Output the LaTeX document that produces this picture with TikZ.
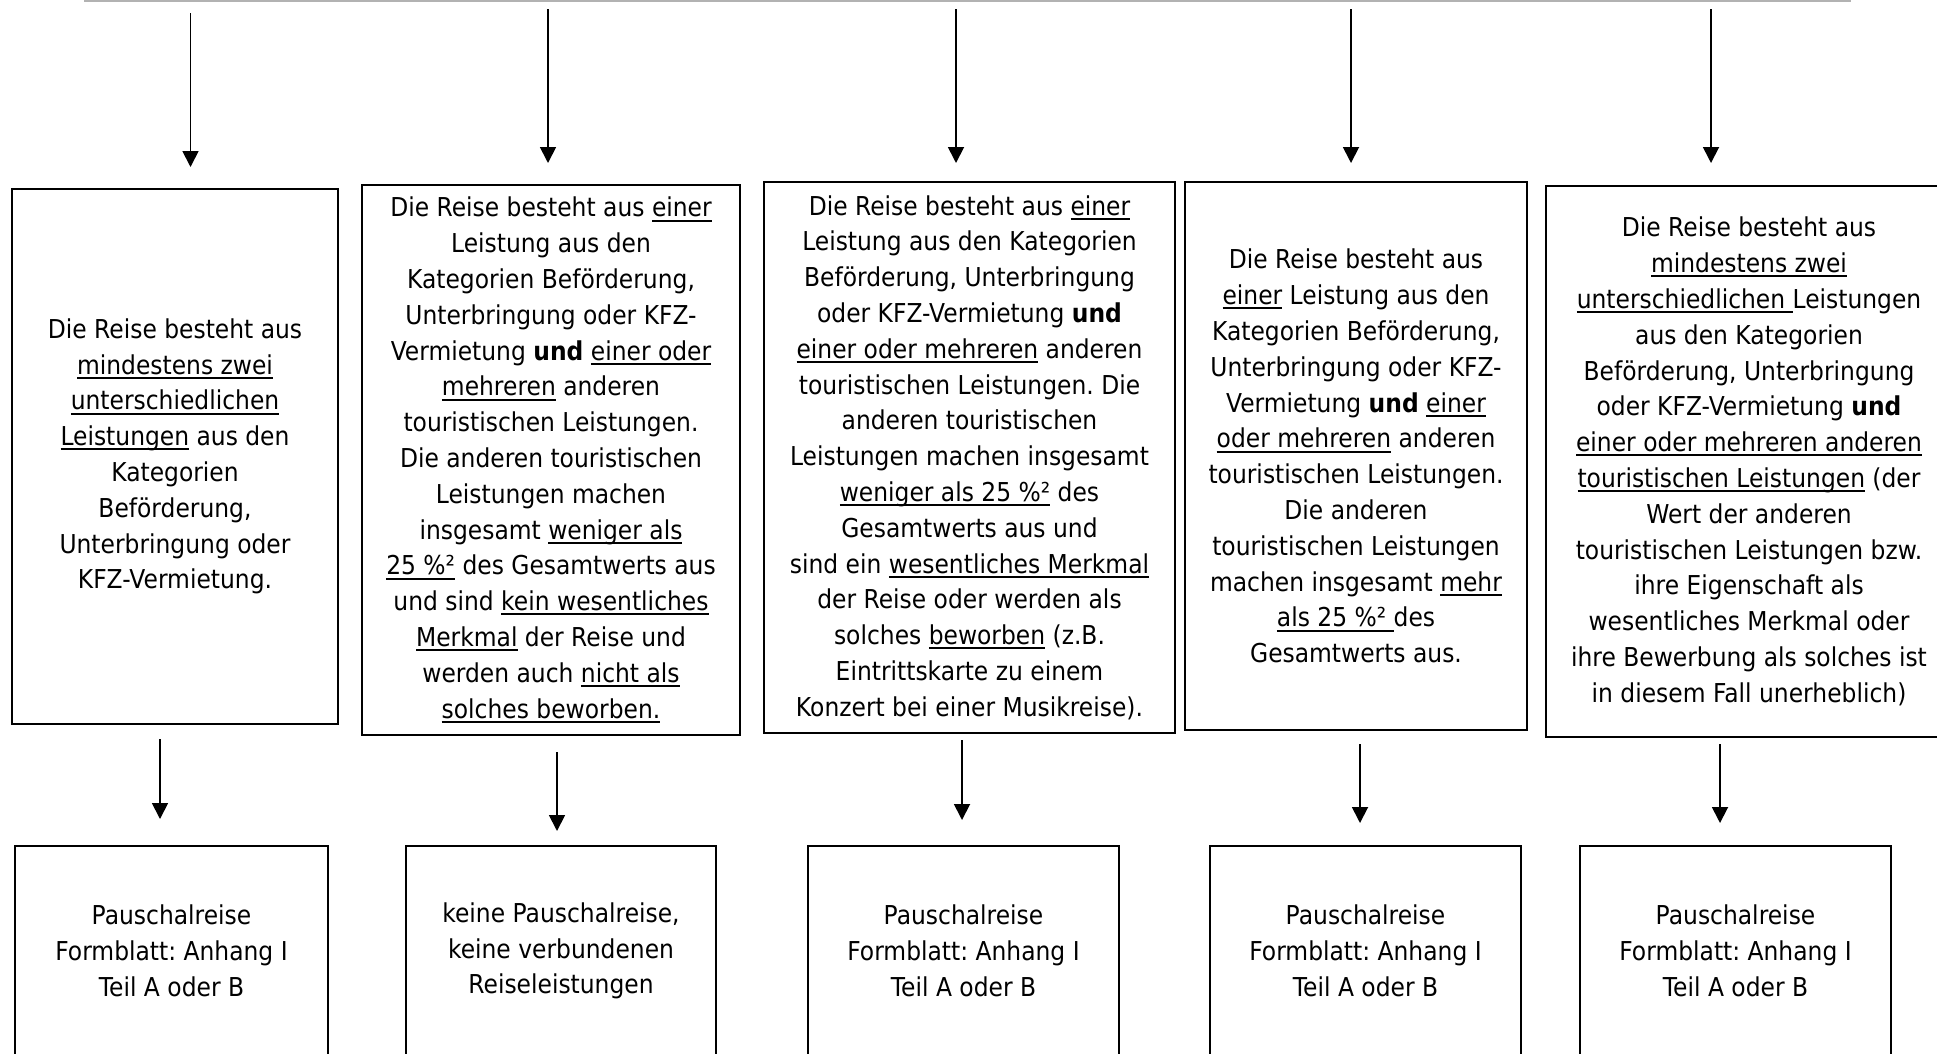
\documentclass[tikz,border=0pt]{standalone}
\usepackage{fontspec}
\setmainfont{DejaVu Sans}[FakeStretch=0.9]
\usetikzlibrary{arrows.meta}
\frenchspacing
\newsavebox{\uubox}
\newcommand{\uu}[1]{\sbox{\uubox}{#1}\rlap{\rule[-4.7pt]{\wd\uubox}{2pt}}\usebox{\uubox}}
\tikzset{
  mbox/.style={draw, line width=2.2pt, inner sep=0pt, outer sep=0pt, align=center,
    font=\fontsize{26}{35.8}\selectfont\frenchspacing},
  arr/.style={line width=1.8pt, -{Triangle[length=16pt,width=16pt]}},
  topline/.style={line width=2pt, draw=black!30},
}
\begin{document}
\begin{tikzpicture}[x=1pt,y=-1pt]
\useasboundingbox (0,0) rectangle (1937,1053);
\clip (0,0) rectangle (1937,1053);

% top gray line
\coordinate (tl1) at (84,1);
\coordinate (tl2) at (1851,1);
\draw[topline] (tl1) -- (tl2);

% middle boxes
\node[mbox, minimum width=326, minimum height=535] (m1) at (175,456.5) {%
Die Reise besteht aus\\
\uu{mindestens zwei}\\
\uu{unterschiedlichen}\\
\uu{Leistungen} aus den\\
Kategorien\\
Beförderung,\\
Unterbringung oder\\
KFZ-Vermietung.};

\node[mbox, minimum width=378, minimum height=550] (m2) at (551,460) {%
Die Reise besteht aus \uu{einer}\\
Leistung aus den\\
Kategorien Beförderung,\\
Unterbringung oder KFZ-\\
Vermietung \textbf{und} \uu{einer oder}\\
\uu{mehreren} anderen\\
touristischen Leistungen.\\
Die anderen touristischen\\
Leistungen machen\\
insgesamt \uu{weniger als}\\
\uu{25 \%²} des Gesamtwerts aus\\
und sind \uu{kein wesentliches}\\
\uu{Merkmal} der Reise und\\
werden auch \uu{nicht als}\\
\uu{solches beworben.}};

\node[mbox, minimum width=411, minimum height=551] (m3) at (969.5,457.5) {%
Die Reise besteht aus \uu{einer}\\
Leistung aus den Kategorien\\
Beförderung, Unterbringung\\
oder KFZ-Vermietung \textbf{und}\\
\uu{einer oder mehreren} anderen\\
touristischen Leistungen. Die\\
anderen touristischen\\
Leistungen machen insgesamt\\
\uu{weniger als 25 \%²} des\\
Gesamtwerts aus und\\
sind ein \uu{wesentliches Merkmal}\\
der Reise oder werden als\\
solches \uu{beworben} (z.B.\\
Eintrittskarte zu einem\\
Konzert bei einer Musikreise).};

\node[mbox, minimum width=342, minimum height=548] (m4) at (1356,456) {%
Die Reise besteht aus\\
\uu{einer} Leistung aus den\\
Kategorien Beförderung,\\
Unterbringung oder KFZ-\\
Vermietung \textbf{und} \uu{einer}\\
\uu{oder mehreren} anderen\\
touristischen Leistungen.\\
Die anderen\\
touristischen Leistungen\\
machen insgesamt \uu{mehr}\\
\uu{als 25 \%²\ }des\\
Gesamtwerts aus.};

\node[mbox, minimum width=406, minimum height=551] (m5) at (1749,461.5) {%
Die Reise besteht aus\\
\uu{mindestens zwei}\\
\uu{unterschiedlichen\ }Leistungen\\
aus den Kategorien\\
Beförderung, Unterbringung\\
oder KFZ-Vermietung \textbf{und}\\
\uu{einer oder mehreren anderen}\\
\uu{touristischen Leistungen} (der\\
Wert der anderen\\
touristischen Leistungen bzw.\\
ihre Eigenschaft als\\
wesentliches Merkmal oder\\
ihre Bewerbung als solches ist\\
in diesem Fall unerheblich)};

% bottom boxes
\node[mbox, minimum width=313, minimum height=210] (b1) at (171.5,951) {Pauschalreise\\Formblatt: Anhang I\\Teil A oder B};
\node[mbox, minimum width=310, minimum height=210] (b2) at (561,951) {keine Pauschalreise,\\keine verbundenen\\Reiseleistungen};
\node[mbox, minimum width=311, minimum height=210] (b3) at (963.5,951) {Pauschalreise\\Formblatt: Anhang I\\Teil A oder B};
\node[mbox, minimum width=311, minimum height=210] (b4) at (1365.5,951) {Pauschalreise\\Formblatt: Anhang I\\Teil A oder B};
\node[mbox, minimum width=311, minimum height=210] (b5) at (1735.5,951) {Pauschalreise\\Formblatt: Anhang I\\Teil A oder B};

% top arrows
\coordinate (t1s) at (190.5,13);  \coordinate (t1e) at (190.5,167);
\coordinate (t2s) at (548,9);     \coordinate (t2e) at (548,163);
\coordinate (t3s) at (956,9);     \coordinate (t3e) at (956,163);
\coordinate (t4s) at (1351,9);    \coordinate (t4e) at (1351,163);
\coordinate (t5s) at (1711,9);    \coordinate (t5e) at (1711,163);
\foreach \i in {1,...,5} {\draw[arr] (t\i s) -- (t\i e);}

% lower arrows
\coordinate (l1s) at (160,739);   \coordinate (l1e) at (160,819);
\coordinate (l2s) at (557,752);   \coordinate (l2e) at (557,831);
\coordinate (l3s) at (962,740);   \coordinate (l3e) at (962,820);
\coordinate (l4s) at (1360,744);  \coordinate (l4e) at (1360,823);
\coordinate (l5s) at (1720,744);  \coordinate (l5e) at (1720,823);
\foreach \i in {1,...,5} {\draw[arr] (l\i s) -- (l\i e);}
\end{tikzpicture}
\end{document}
